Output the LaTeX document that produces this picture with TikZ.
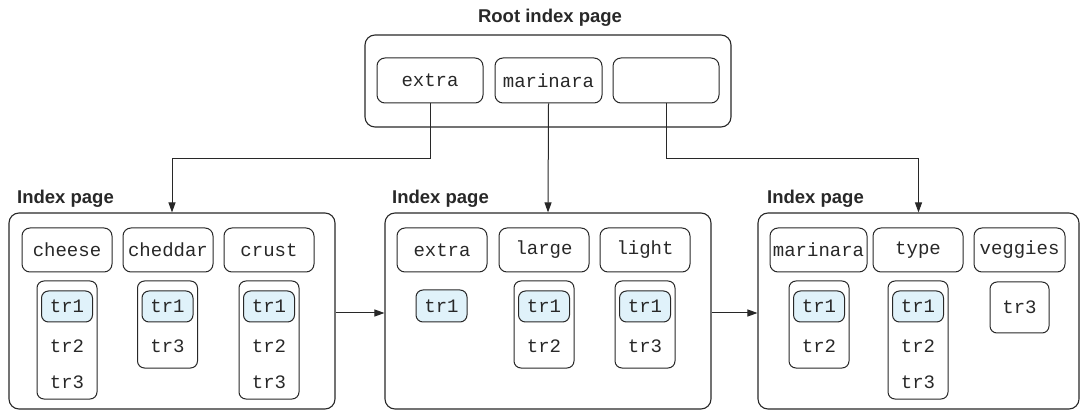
\documentclass[tikz,border=0pt]{standalone}
\usepackage{fontspec}
\setmainfont{Liberation Sans}
\newfontfamily\codefont{Liberation Mono}
\usetikzlibrary{arrows.meta}
\definecolor{ink}{RGB}{40,40,40}
\definecolor{hitfill}{RGB}{224,242,250}
\tikzset{
  x=1pt, y=-1pt,
  page/.style={draw=ink, rounded corners=10pt, line width=1.1pt, minimum width=326pt, minimum height=196pt, inner sep=0pt},
  rootpage/.style={draw=ink, rounded corners=10pt, line width=1.1pt, minimum width=366pt, minimum height=92pt, inner sep=0pt},
  keybox/.style={draw=ink, rounded corners=8pt, line width=1pt, minimum width=90pt, minimum height=44pt, inner sep=0pt, text=ink, font=\codefont\fontsize{19}{19}\selectfont},
  listbox/.style={draw=ink, rounded corners=7pt, line width=1pt, minimum width=60pt, inner sep=0pt},
  hit/.style={draw=ink, fill=hitfill, rounded corners=7pt, line width=1pt, minimum width=51pt, minimum height=31pt, inner sep=0pt, text=ink, font=\codefont\fontsize{19}{19}\selectfont},
  rowid/.style={inner sep=0pt, text=ink, font=\codefont\fontsize{19}{19}\selectfont},
  title/.style={inner sep=0pt, text=ink, font=\bfseries\fontsize{18.5}{18.5}\selectfont},
  arr/.style={draw=ink, line width=1pt, -{Triangle[length=10pt,width=7pt]}},
}
\begin{document}
\begin{tikzpicture}
\useasboundingbox (0,0) rectangle (1081,411);

% root page
\node[title, anchor=base] (roottitle) at (550,23) {Root index page};
\node[rootpage] (root) at (548,81) {};
\node[keybox, minimum width=106pt, minimum height=45pt] (rextra) at (430,80.5) {extra};
\node[keybox, minimum width=107pt, minimum height=45pt] (rmar) at (548.5,80.5) {marinara};
\node[keybox, minimum width=106pt, minimum height=45pt] (rlast) at (666,80.5) {};

% index pages
\node[page] (p1) at (172,311) {};
\node[page] (p2) at (548,311) {};
\node[page, minimum width=321pt] (p3) at (918.5,311) {};
\node[title, anchor=base west] (t1) at (17,204) {Index page};
\node[title, anchor=base west] (t2) at (392,204) {Index page};
\node[title, anchor=base west] (t3) at (767,204) {Index page};

% first page: cheese, cheddar, crust
\node[keybox] (k11) at (67,250) {cheese};
\node[keybox] (k12) at (168,250) {cheddar};
\node[keybox] (k13) at (269,250) {crust};
\node[listbox, minimum height=118pt] (l11) at (67,340) {};
\node[hit] (h11) at (67,306.5) {tr1};
\node[rowid] (a112) at (67,346) {tr2};
\node[rowid] (a113) at (67,382) {tr3};
\node[listbox, minimum height=87pt] (l12) at (167.5,324.5) {};
\node[hit] (h12) at (167.5,306.5) {tr1};
\node[rowid] (a123) at (167.5,346) {tr3};
\node[listbox, minimum height=118pt] (l13) at (269,340) {};
\node[hit] (h13) at (269,306.5) {tr1};
\node[rowid] (a132) at (269,346) {tr2};
\node[rowid] (a133) at (269,382) {tr3};

% second page: extra, large, light
\node[keybox] (k21) at (442,250) {extra};
\node[keybox] (k22) at (544,250) {large};
\node[keybox] (k23) at (645,250) {light};
\node[hit, minimum height=32pt] (h21) at (441.5,306) {tr1};
\node[listbox, minimum height=87pt] (l22) at (544,324.5) {};
\node[hit] (h22) at (544,306.5) {tr1};
\node[rowid] (a222) at (544,346) {tr2};
\node[listbox, minimum height=87pt] (l23) at (645,324.5) {};
\node[hit] (h23) at (645,306.5) {tr1};
\node[rowid] (a233) at (645,346) {tr3};

% third page: marinara, type, veggies
\node[keybox, minimum width=97pt] (k31) at (818.5,250) {marinara};
\node[keybox] (k32) at (918,250) {type};
\node[keybox, minimum width=91pt] (k33) at (1019.5,250) {veggies};
\node[listbox, minimum height=87pt] (l31) at (819,324.5) {};
\node[hit] (h31) at (819,306.5) {tr1};
\node[rowid] (a312) at (819,346) {tr2};
\node[listbox, minimum height=118pt] (l32) at (918,340) {};
\node[hit] (h32) at (918,306.5) {tr1};
\node[rowid] (a322) at (918,346) {tr2};
\node[rowid] (a323) at (918,382) {tr3};
\node[listbox, minimum width=59pt, minimum height=51pt, text=ink, font=\codefont\fontsize{19}{19}\selectfont] (l33) at (1019.5,307.5) {tr3};

% pointers from the root to the index pages
\draw[arr] (rextra.south) -- ++(0,55) -| (p1.north);
\draw[arr] (rmar.south) -- (p2.north);
\draw[arr] (rlast.south) -- ++(0,55) -| (p3.north);

% sibling links between index pages
\draw[arr] ([yshift=-2pt]p1.east) -- ([yshift=-2pt]p2.west);
\draw[arr] ([yshift=-2pt]p2.east) -- ([yshift=-2pt]p3.west);
\end{tikzpicture}
\end{document}
